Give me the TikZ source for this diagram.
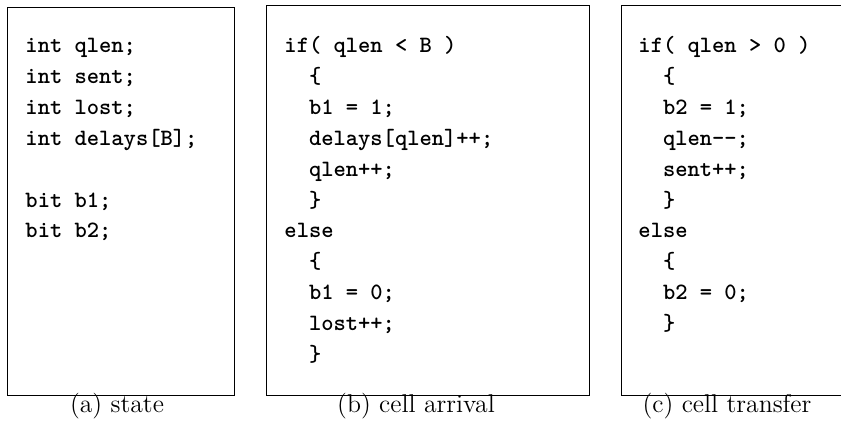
\documentclass[tikz,border=0pt]{standalone}
\usetikzlibrary{positioning}
\tikzset{
  panel/.style={draw,line width=0.6pt,anchor=north west,inner sep=0pt},
  code/.style={anchor=north west,align=left,inner sep=0pt,
    font=\fontsize{10}{13.2}\selectfont\ttfamily\bfseries},
  caption/.style={anchor=base,inner sep=0pt,font=\fontsize{11}{13}\selectfont}
}
\begin{document}
\begin{tikzpicture}[x=0.4274pt,y=-0.4274pt]
  \useasboundingbox (0,0) rectangle (841,424);
  \clip (0,0) rectangle (841,424);
  % the three panels
  \node[panel,minimum width=97pt,minimum height=165.8pt] (state) at (7,7) {};
  \node[panel,minimum width=138pt,minimum height=166.7pt] (arrival) at (266,5) {};
  \node[panel,minimum width=102.6pt,minimum height=166.7pt] (transfer) at (621,5) {};
  % code
  \node[code] (statecode) at (25,30.5) {\strut int qlen;\\int sent;\\int lost;\\int delays[B];\\[13.2pt]bit b1;\\bit b2;};
  \node[code] (arrivalcode) at (284,30.5) {\strut if( qlen < B )\\\ \ \{\\\ \ b1 = 1;\\\ \ delays[qlen]++;\\\ \ qlen++;\\\ \ \}\\else\\\ \ \{\\\ \ b1 = 0;\\\ \ lost++;\\\ \ \}};
  \node[code] (transfercode) at (638,30.5) {\strut if( qlen > 0 )\\\ \ \{\\\ \ b2 = 1;\\\ \ qlen-{}-;\\\ \ sent++;\\\ \ \}\\else\\\ \ \{\\\ \ b2 = 0;\\\ \ \}};
  % captions
  \node[caption] (statecap) at (117,412) {(a) state};
  \node[caption] (arrivalcap) at (416,412) {(b) cell arrival};
  \node[caption] (transfercap) at (727,412) {(c) cell transfer};
\end{tikzpicture}
\end{document}
